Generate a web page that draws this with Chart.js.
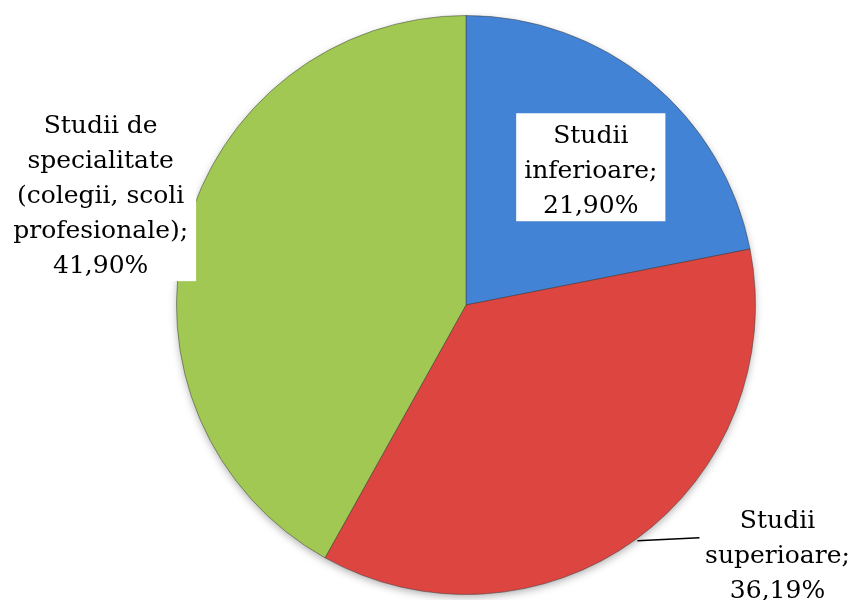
<!DOCTYPE html>
<html lang="ro">
<head>
    <meta charset="UTF-8">
    <title>Studii</title>
    <script src="https://cdn.jsdelivr.net/npm/chart.js"></script>
    <style>
        body { margin: 0; background: #ffffff; }
        #wrap { width: 854px; height: 600px; }
    </style>
</head>
<body>
    <div id="wrap"><canvas id="pie"></canvas></div>

    <script>
        // date
        const categorii = ['Studii inferioare', 'Studii superioare', 'Studii de specialitate (colegii, scoli profesionale)'];
        const procente = [21.90, 36.19, 41.90];
        const etichete = [
            ['Studii', 'inferioare;', '21,90%'],
            ['Studii', 'superioare;', '36,19%'],
            ['Studii de', 'specialitate', '(colegii, scoli', 'profesionale);', '41,90%']
        ];
        const culoriInterior = ['#4283d6', '#dc4540', '#a0c853'];
        const culoriExterior = ['#2e64b4', '#b5322e', '#86ad3c'];

        // pozitia etichetelor, in raze fata de centrul placintei
        const pozEticheta = [[0.431, -0.462], [1.076, 0.869], [-1.262, -0.376]];
        const cuCasuta = [true, false, true];

        function gradient(ctx) {
            const chart = ctx.chart;
            const arc = chart.getDatasetMeta(0).data[ctx.dataIndex];
            if (!arc || !arc.outerRadius) return culoriInterior[ctx.dataIndex];
            const g = chart.ctx.createRadialGradient(arc.x, arc.y, 0, arc.x, arc.y, arc.outerRadius);
            g.addColorStop(0, culoriInterior[ctx.dataIndex]);
            g.addColorStop(0.85, culoriInterior[ctx.dataIndex]);
            g.addColorStop(1, culoriExterior[ctx.dataIndex]);
            return g;
        }

        const umbra = {
            id: 'umbra',
            beforeDatasetsDraw(chart) {
                const arc = chart.getDatasetMeta(0).data[0];
                const c = chart.ctx;
                c.save();
                c.shadowColor = 'rgba(0,0,0,0.35)';
                c.shadowBlur = 8;
                c.shadowOffsetY = 3;
                c.beginPath();
                c.arc(arc.x, arc.y, arc.outerRadius - 1, 0, Math.PI * 2);
                c.fillStyle = '#888';
                c.fill();
                c.restore();
            }
        };

        const textePlugin = {
            id: 'texte',
            afterDatasetsDraw(chart) {
                const meta = chart.getDatasetMeta(0);
                const c = chart.ctx;
                const lh = 35;
                c.save();
                c.font = '25px "DejaVu Serif"';
                c.textAlign = 'center';
                c.textBaseline = 'middle';
                meta.data.forEach((arc, i) => {
                    const r = arc.outerRadius;
                    const cx = arc.x + pozEticheta[i][0] * r;
                    const cy = arc.y + pozEticheta[i][1] * r;
                    const linii = etichete[i];
                    const y0 = cy - (linii.length - 1) * lh / 2;
                    const yN = y0 + (linii.length - 1) * lh;
                    if (cuCasuta[i]) {
                        let w = 0;
                        linii.forEach(l => { w = Math.max(w, c.measureText(l).width); });
                        c.fillStyle = '#ffffff';
                        c.fillRect(cx - w / 2 - 8, y0 - 23, w + 16, yN - y0 + 38);
                    } else {
                        // linie de legatura
                        const mid = (arc.startAngle + arc.endAngle) / 2;
                        const px = arc.x + Math.cos(mid) * (r + 2);
                        const py = arc.y + Math.sin(mid) * (r + 2);
                        c.strokeStyle = '#000';
                        c.lineWidth = 1.5;
                        c.beginPath();
                        c.moveTo(px, py);
                        c.lineTo(cx - 78, py - 3);
                        c.stroke();
                    }
                    c.fillStyle = '#000';
                    linii.forEach((l, k) => c.fillText(l, cx, y0 + k * lh));
                });
                c.restore();
            }
        };

        new Chart(document.getElementById('pie'), {
            type: 'pie',
            data: {
                labels: categorii,
                datasets: [{
                    data: procente,
                    backgroundColor: gradient,
                    borderColor: 'rgba(60,60,60,0.5)',
                    borderWidth: 1
                }]
            },
            options: {
                responsive: true,
                maintainAspectRatio: false,
                animation: false,
                layout: { padding: { left: 176, right: 98, top: 15, bottom: 5 } },
                plugins: {
                    legend: { display: false },
                    tooltip: { enabled: false }
                }
            },
            plugins: [umbra, textePlugin]
        });
    </script>
</body>
</html>
